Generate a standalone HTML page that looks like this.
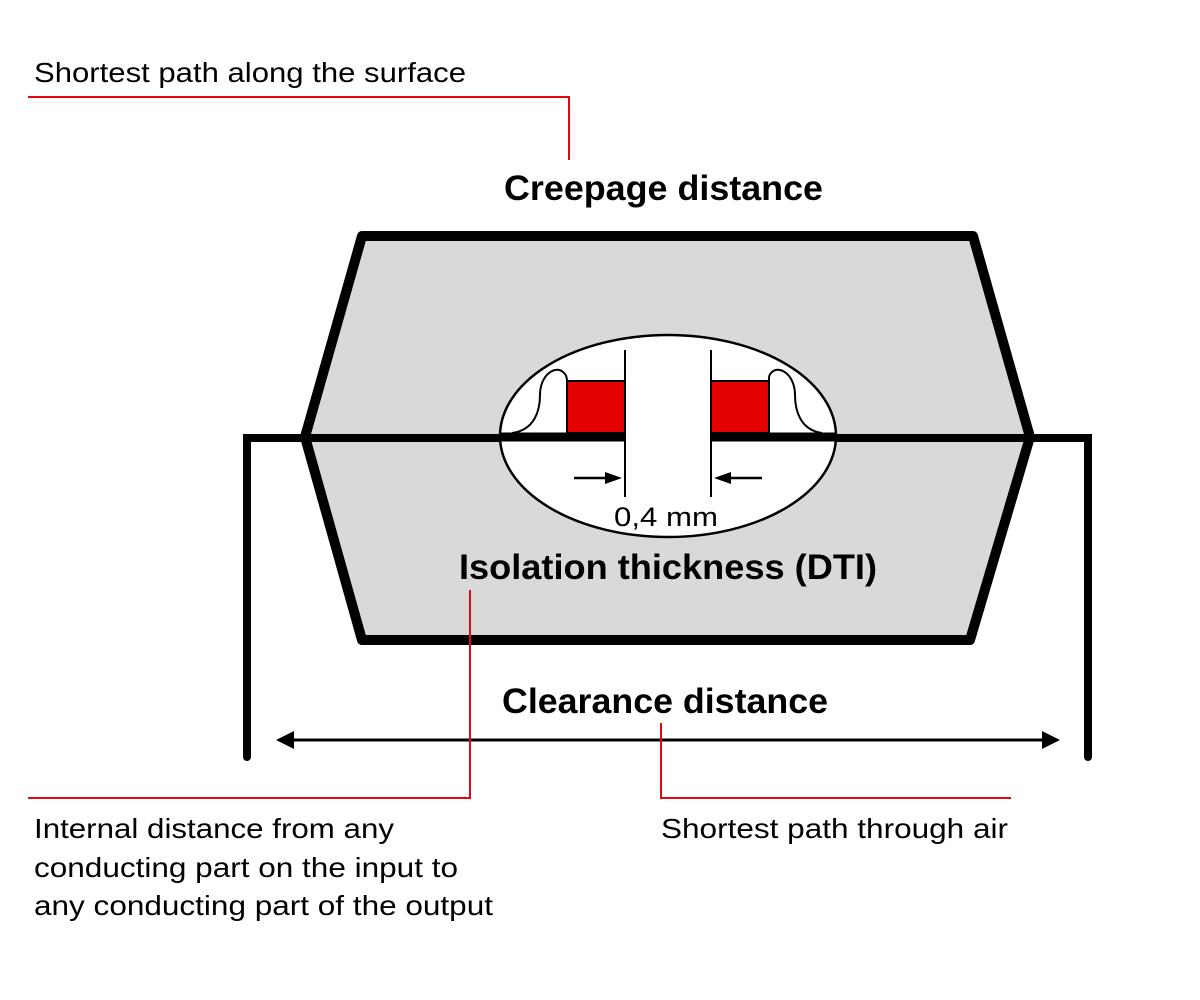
<!DOCTYPE html>
<html><head><style>body{margin:0;background:#fff}svg{display:block}</style></head><body>
<svg width="1200" height="1000" viewBox="0 0 1200 1000" xmlns="http://www.w3.org/2000/svg" font-family="Liberation Sans, sans-serif">
<rect width="1200" height="1000" fill="#fff"/>
<polygon points="362,236 973,236 1030,437 970,640 362,640 305,437" fill="#d9d9d9" stroke="#000" stroke-width="10" stroke-linejoin="round"/>
<polyline points="247,757 247,438 1088,438 1088,757" fill="none" stroke="#000" stroke-width="8" stroke-linecap="round"/>
<ellipse cx="668" cy="436" rx="168" ry="101" fill="#fff" stroke="#000" stroke-width="2.5"/>
<line x1="500" y1="437" x2="625" y2="437" stroke="#000" stroke-width="9"/>
<line x1="711" y1="437" x2="836" y2="437" stroke="#000" stroke-width="9"/>
<rect x="567" y="381" width="58" height="52" fill="#e30000" stroke="#000" stroke-width="2"/>
<rect x="711" y="381" width="58" height="52" fill="#e30000" stroke="#000" stroke-width="2"/>
<path d="M512,433 C535,430 540,410 540,395 C540,375 555,365 563,372 C567,375 567,380 567,381" fill="none" stroke="#000" stroke-width="2"/>
<path d="M822,433 C800,430 795,410 795,395 C795,375 780,365 772,372 C768,375 769,380 769,381" fill="none" stroke="#000" stroke-width="2"/>
<line x1="625" y1="350" x2="625" y2="497" stroke="#000" stroke-width="2"/>
<line x1="711" y1="350" x2="711" y2="497" stroke="#000" stroke-width="2"/>
<line x1="574" y1="478" x2="608" y2="478" stroke="#000" stroke-width="2.5"/>
<polygon points="622,478 605,472 605,484" fill="#000"/>
<line x1="762" y1="478" x2="728" y2="478" stroke="#000" stroke-width="2.5"/>
<polygon points="714,478 731,472 731,484" fill="#000"/>
<text x="614" y="526" font-size="27" textLength="104" lengthAdjust="spacingAndGlyphs">0,4 mm</text>
<text x="459" y="579" font-size="35" font-weight="bold" textLength="418" lengthAdjust="spacingAndGlyphs">Isolation thickness (DTI)</text>
<text x="504" y="200" font-size="35" font-weight="bold" textLength="319" lengthAdjust="spacingAndGlyphs">Creepage distance</text>
<text x="502" y="713" font-size="35" font-weight="bold" textLength="326" lengthAdjust="spacingAndGlyphs">Clearance distance</text>
<line x1="292" y1="740" x2="1044" y2="740" stroke="#000" stroke-width="3"/>
<polygon points="276,740 294,731 294,749" fill="#000"/>
<polygon points="1060,740 1042,731 1042,749" fill="#000"/>
<polyline points="28,97 569,97 569,160" fill="none" stroke="#e30613" stroke-width="2"/>
<polyline points="470,590 470,798 28,798" fill="none" stroke="#e30613" stroke-width="2"/>
<polyline points="661,723 661,798 1011,798" fill="none" stroke="#e30613" stroke-width="2"/>
<g font-size="28" lengthAdjust="spacingAndGlyphs">
<text x="34" y="82" textLength="432" lengthAdjust="spacingAndGlyphs">Shortest path along the surface</text>
<text x="34" y="838" textLength="360" lengthAdjust="spacingAndGlyphs">Internal distance from any</text>
<text x="34" y="877" textLength="424" lengthAdjust="spacingAndGlyphs">conducting part on the input to</text>
<text x="34" y="915" textLength="459" lengthAdjust="spacingAndGlyphs">any conducting part of the output</text>
<text x="661" y="838" textLength="347" lengthAdjust="spacingAndGlyphs">Shortest path through air</text>
</g>
</svg>
</body></html>
